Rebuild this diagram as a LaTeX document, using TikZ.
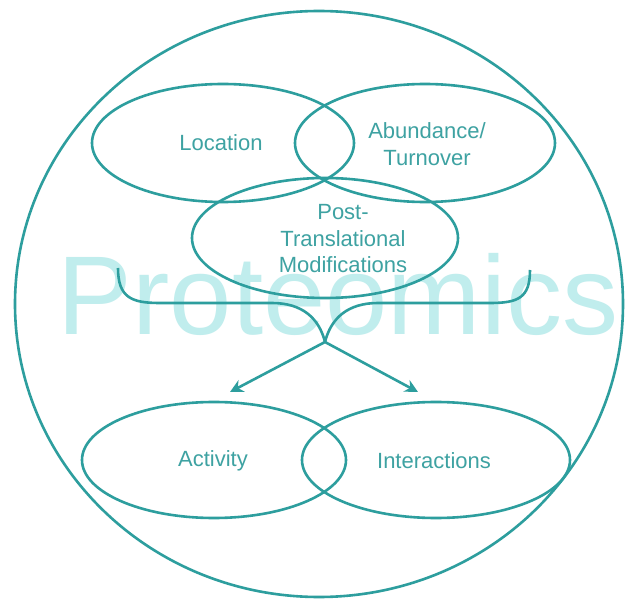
\documentclass[tikz,border=0pt]{standalone}
\usepackage{fontspec}
\setmainfont{Liberation Sans}
\usetikzlibrary{shapes.geometric,arrows.meta}

\definecolor{tealline}{RGB}{45,158,158}
\definecolor{tealtext}{RGB}{62,162,162}
\definecolor{wash}{RGB}{192,237,237}

\tikzstyle{oval}=[ellipse,draw=tealline,line width=2.6pt,inner sep=0pt]
\tikzstyle{topic}=[text=tealtext,align=center,font=\fontsize{22}{26.5}\selectfont]
\tikzstyle{edge} = [draw=tealline,line width=2.6pt]
\tikzstyle{pointer} = [edge,-{Stealth[length=13pt,width=13pt]}]

\begin{document}
\begin{tikzpicture}[x=1pt,y=-1pt]
                              \useasboundingbox[fill=white] (0,0) rectangle (625,599);
                              % Big word in the back
                              \node[text=wash,font=\fontsize{112}{112}\selectfont,anchor=base] (watermark) at (338,335) {Proteomics};
                              % The cell around everything
                              \node[oval,minimum width=608pt,minimum height=586pt] (cell) at (319,304) {};
                              % First we draw the ovals
                              \foreach \pos/\name/\w/\h in {{(223,143)/location/262/118}, {(425,143)/abundance/260/118},
                                    {(325,238)/ptm/266/120}, {(214,460)/activity/264/116}, {(436,460)/interactions/268/116}}
                                    \node[oval,minimum width=\w pt,minimum height=\h pt] (\name) at \pos {};
                              % Then the words inside them
                              \foreach \pos/\name/\la in {{(221,143)/locationtext/Location}, {(427,144)/abundancetext/{Abundance/\\Turnover}},
                                    {(343,239)/ptmtext/{Post-\\Translational\\Modifications}}, {(213,461)/activitytext/Activity},
                                    {(434,461)/interactionstext/Interactions}}
                                    \node[topic] (\name) at \pos {\la};
                              % Brace under the upper ovals
                              \coordinate (bl) at (118,268);
                              \coordinate (br) at (530,270);
                              \coordinate (fork) at (325,342);
                              \path[edge] (bl) .. controls (118,298) and (132,303) .. (160,303) -- (272,303)
                                    .. controls (302,303) and (319,318) .. (fork);
                              \path[edge] (br) .. controls (530,298) and (518,303) .. (490,303) -- (378,303)
                                    .. controls (348,303) and (331,318) .. (fork);
                              % Connect the fork with the lower ovals
                              \coordinate (tipl) at (230,392);
                              \coordinate (tipr) at (418,392);
                              \foreach \dest in {tipl,tipr}
                              \path[pointer] (fork) -- (\dest);
                        \end{tikzpicture}
\end{document}
